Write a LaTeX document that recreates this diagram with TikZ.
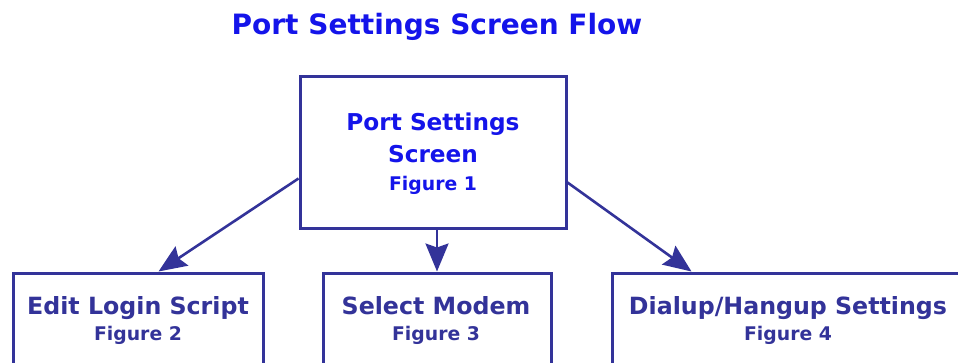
\documentclass[tikz,border=0pt]{standalone}
\usepackage{fontspec}
\setmainfont{DejaVu Sans}
\usetikzlibrary{arrows.meta,calc}
\definecolor{navy}{HTML}{333399}
\definecolor{brightblue}{HTML}{1414EA}

\begin{document}
\begin{tikzpicture}[x=1pt,y=-1pt,
  box/.style={draw=navy, line width=3pt, fill=white, inner sep=0pt},
  link/.style={draw=navy, line width=2.6pt, -{Stealth[length=28pt,width=23pt,inset=4pt]}},
  toptxt/.style={font=\bfseries\fontsize{23.2}{28}\selectfont, anchor=base, inner sep=0pt},
  headtxt/.style={font=\bfseries\fontsize{23.7}{28}\selectfont, anchor=base, inner sep=0pt},
  figtxt/.style={font=\bfseries\fontsize{18.8}{24}\selectfont, anchor=base, inner sep=0pt},
]
\useasboundingbox (0,0) rectangle (958,362);
\clip (0,0) rectangle (958,362);

% title
\node[font=\bfseries\fontsize{28}{34}\selectfont, text=brightblue, anchor=base, inner sep=0pt]
  (title) at (437,34) {Port Settings Screen Flow};

% boxes
\node[box, minimum width=266pt, minimum height=152pt] (main) at (433,152) {};
\node[box, minimum width=250pt, minimum height=150pt] (login) at (138,348) {};
\node[box, minimum width=228pt, minimum height=150pt] (modem) at (437,348) {};
\node[box, minimum width=400pt, minimum height=150pt] (dial) at (812,348) {};

% box texts
\node[toptxt, text=brightblue] (m1) at (433,130) {Port Settings};
\node[toptxt, text=brightblue] (m2) at (433,162) {Screen};
\node[figtxt, text=brightblue] (m3) at (433,190) {Figure 1};

\node[headtxt, text=navy] (l1) at (138,314) {Edit Login Script};
\node[figtxt, text=navy] (l2) at (138,340) {Figure 2};
\node[headtxt, text=navy] (s1) at (436,314) {Select Modem};
\node[figtxt, text=navy] (s2) at (436,340) {Figure 3};
\node[headtxt, text=navy] (d1) at (788,314) {Dialup/Hangup Settings};
\node[figtxt, text=navy] (d2) at (788,340) {Figure 4};

% connectors
\draw[link] ($(main.north west)+(0,104)$) -- ($(login.north west)+(147,0)$);
\draw[link] (main.south -| modem.north) -- (modem.north);
\draw[link] ($(main.north east)+(0,108)$) -- ($(dial.north west)+(81,0)$);
\end{tikzpicture}
\end{document}
